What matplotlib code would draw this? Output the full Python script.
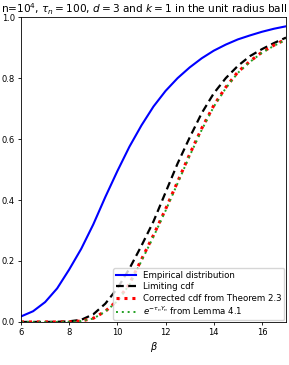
import matplotlib
matplotlib.use('Agg')
import matplotlib.pyplot as plt
import numpy as np

# beta grid and curves
beta = [6, 6.5, 7, 7.5, 8, 8.5, 9, 9.5, 10, 10.5, 11, 11.5, 12, 12.5,
        13, 13.5, 14, 14.5, 15, 15.5, 16, 16.5, 17]
empirical = [0.018, 0.035, 0.065, 0.11, 0.172, 0.24, 0.32, 0.41, 0.495, 0.575,
             0.645, 0.707, 0.758, 0.80, 0.835, 0.865, 0.89, 0.91, 0.927, 0.94,
             0.952, 0.962, 0.97]
limiting = [0.0, 0.0, 0.0, 0.0005, 0.002, 0.007, 0.025, 0.06, 0.11, 0.175,
            0.25, 0.33, 0.425, 0.52, 0.605, 0.685, 0.75, 0.80, 0.84, 0.872,
            0.895, 0.915, 0.933]
corrected = [0.0, 0.0, 0.0, 0.0, 0.0005, 0.003, 0.012, 0.035, 0.07, 0.125,
             0.205, 0.285, 0.37, 0.46, 0.55, 0.635, 0.71, 0.77, 0.82, 0.855,
             0.885, 0.908, 0.928]
lemma = [0.0, 0.0, 0.0, 0.0, 0.0005, 0.003, 0.011, 0.034, 0.068, 0.122,
         0.2, 0.28, 0.365, 0.455, 0.545, 0.63, 0.706, 0.767, 0.817, 0.853,
         0.883, 0.906, 0.926]

fig = plt.figure(figsize=(2.89, 3.65), dpi=100)
ax = fig.add_axes([0.0727, 0.118, 0.917, 0.835])

ax.plot(beta, empirical, color='blue', lw=1.5, label='Empirical distribution')
ax.plot(beta, limiting, color='black', lw=1.6, ls=(0, (3.5, 2)), label='Limiting cdf')
ax.plot(beta, corrected, color='red', lw=2.2, ls=(0, (1, 1.6)),
        label='Corrected cdf from Theorem 2.3')
ax.plot(beta, lemma, color='#22a022', lw=1.4, ls=(0, (1, 2)),
        label=r'$e^{-\tau_n Y_n}$ from Lemma 4.1')

ax.set_xlim(6, 17)
ax.set_ylim(0, 1)
ax.set_xticks([6, 8, 10, 12, 14, 16])
ax.set_yticks([0.0, 0.2, 0.4, 0.6, 0.8, 1.0])
ax.tick_params(labelsize=6, length=2.5, width=0.6, pad=2)
for s in ax.spines.values():
    s.set_linewidth(0.6)
ax.set_xlabel(r'$\beta$', fontsize=7, labelpad=2)
ax.set_title(r'n=$10^4$, $\tau_n=100$, $d=3$ and $k=1$ in the unit radius ball',
             fontsize=7.6, pad=3, x=0.466)
ax.legend(loc='lower right', fontsize=6.2, handlelength=2.3, borderpad=0.35,
          labelspacing=0.25, framealpha=0.8, borderaxespad=0.2)

fig.savefig('out.png', dpi=100)
